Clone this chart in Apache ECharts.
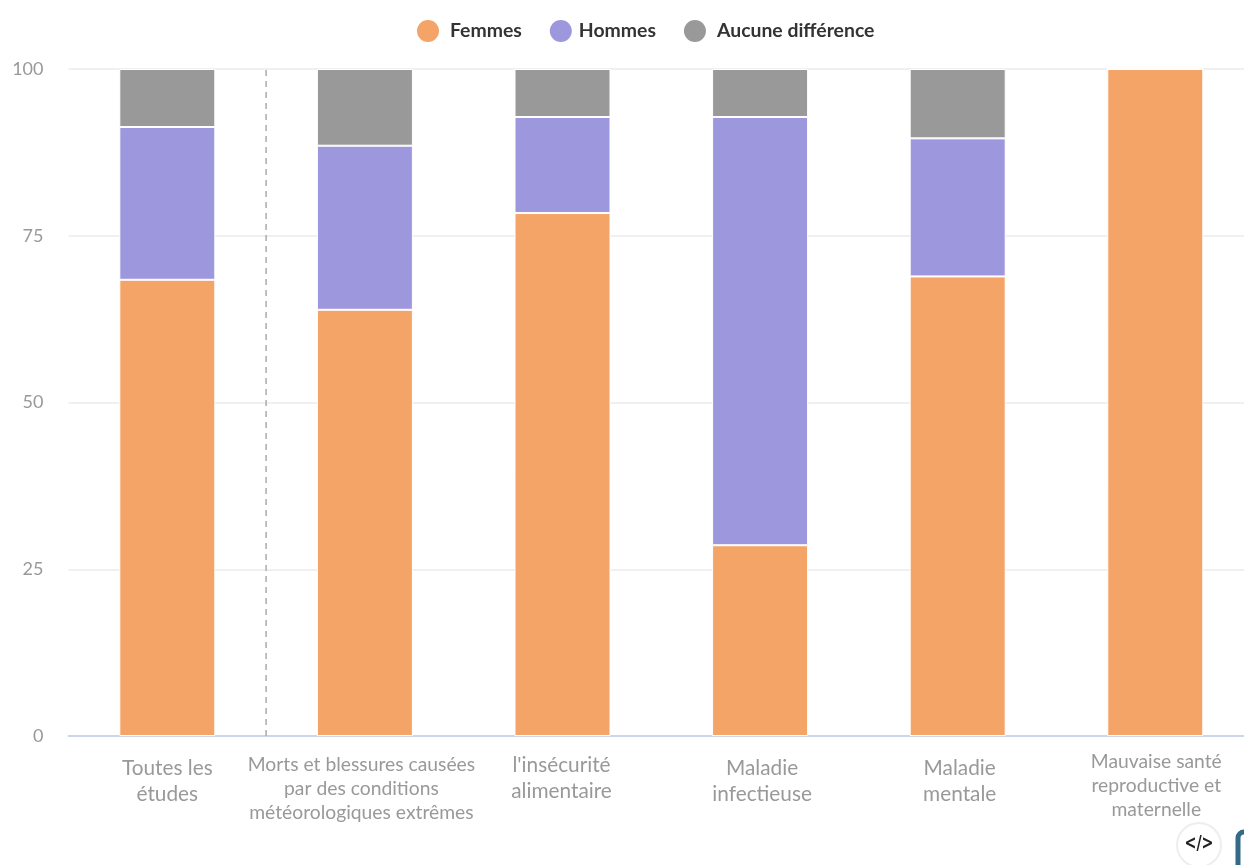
<!DOCTYPE html>
<html><head><meta charset="utf-8">
<style>html,body{margin:0;padding:0;background:#fff;overflow:hidden}#c{width:1244px;height:865px}</style>
<script src="https://cdn.jsdelivr.net/npm/echarts@6/dist/echarts.min.js"></script>
</head><body><div id="c"></div>
<script>
const categories = [
  "Toutes les\nétudes",
  "Morts et blessures causées\npar des conditions\nmétéorologiques extrêmes",
  "l'insécurité\nalimentaire",
  "Maladie\ninfectieuse",
  "Maladie\nmentale",
  "Mauvaise santé\nreproductive et\nmaternelle"
];
const femmes = [68.4, 63.9, 78.4, 28.6, 68.9, 100];
const hommes = [22.9, 24.6, 14.4, 64.2, 20.7, 0];
const aucune = [8.7, 11.5, 7.2, 7.2, 10.4, 0];
const yTicks = [0, 25, 50, 75, 100];
const separator = [[1, 0], [1, 100]];

const font = 'Lato, "Open Sans", sans-serif';
// [font size, line height, padding] of each category label
const labelLayout = [
  [20.8, 26, [5, 0, 0, 0]],
  [19.3, 24, [3, 7, 0, 0]],
  [20.8, 26, [2, 2, 0, 0]],
  [20.8, 26, [5, 0, 0, 4]],
  [20.8, 26, [5, 0, 0, 4]],
  [19.3, 24, [0, 0, 0, 2]]
];
const chart = echarts.init(document.getElementById('c'), null, {renderer: 'canvas'});
const seg = (name, data, color) => ({
  name, type: 'bar', stack: 'a', data, barWidth: 96,
  itemStyle: {color, borderColor: '#fff', borderWidth: 1},
  emphasis: {disabled: true}
});
const legendFont = {fontFamily: font, fontSize: 19.4, fontWeight: 'bold', color: '#333'};
chart.setOption({
  animation: false,
  legend: {
    top: 15, left: 412, icon: 'circle', itemWidth: 22, itemHeight: 22, itemGap: 28, itemStyle: {borderWidth: 0},
    data: [
      {name: 'Femmes', textStyle: {...legendFont, padding: [0, 0, 0, 6]}},
      {name: 'Hommes', textStyle: {...legendFont, padding: [2, 0, 0, 2]}},
      {name: 'Aucune différence', textStyle: {...legendFont, padding: [0, 0, 0, 6]}}
    ],
    textStyle: legendFont
  },
  grid: {left: 68.5, top: 69, width: 1185.6, height: 667, outerBoundsMode: 'none'},
  xAxis: [{
    type: 'category',
    data: categories.map((value, i) => ({
      value,
      textStyle: {fontSize: labelLayout[i][0], lineHeight: labelLayout[i][1], padding: labelLayout[i][2]}
    })),
    axisLine: {lineStyle: {color: '#ccd6eb', width: 2}},
    axisTick: {show: false},
    axisLabel: {
      interval: 0, margin: 14, fontFamily: font, fontSize: 19.3, color: '#999', lineHeight: 26
    }
  }, {
    type: 'value', min: 0, max: 6, show: false
  }],
  yAxis: {
    type: 'value', min: 0, max: 100, interval: 25,
    axisLabel: {fontFamily: font, fontSize: 18, color: '#999', margin: 25, padding: [2, 0, 0, 0],
      formatter: v => yTicks.includes(v) ? String(v) : ''},
    axisLine: {show: false}, axisTick: {show: false},
    splitLine: {lineStyle: {color: '#f0f0f0', width: 2}}
  },
  series: [
    seg('Femmes', femmes, '#f4a466'),
    seg('Hommes', hommes, '#9d97de'),
    seg('Aucune différence', aucune, '#999999'),
    {type: 'line', xAxisIndex: 1, data: separator, symbol: 'none', silent: true,
     lineStyle: {color: '#aaa', width: 1.5, type: [6, 5]}, z: 5}
  ],
  graphic: [
    {type: 'circle', shape: {cx: 1199, cy: 845, r: 22}, style: {fill: '#fff', stroke: '#eee', lineWidth: 2}},
    {type: 'text', x: 1199, y: 844, scaleX: 0.75, style: {text: '</>', fontFamily: 'DejaVu Sans', fontWeight: 'bold', fontSize: 19, fill: '#222', align: 'center', verticalAlign: 'middle'}},
    {type: 'rect', shape: {x: 1238, y: 832, width: 20, height: 40, r: 6}, style: {fill: '#fff', stroke: '#336b87', lineWidth: 5}}
  ]
});
</script></body></html>
